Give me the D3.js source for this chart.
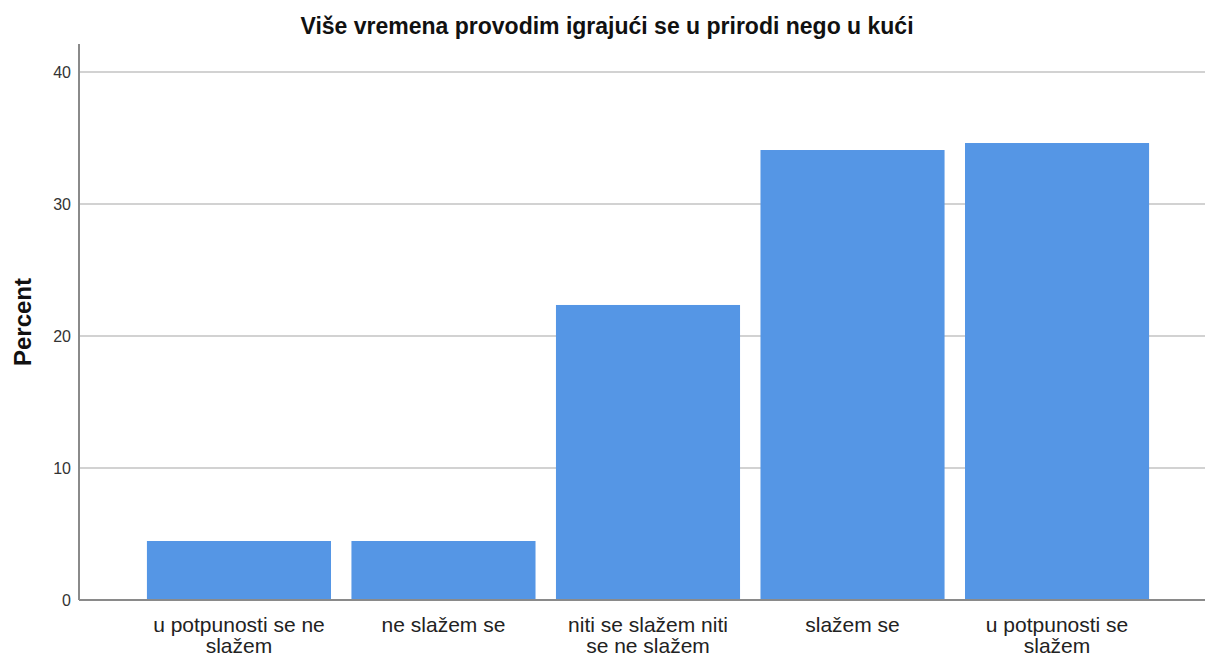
<!DOCTYPE html>
<html>
<head>
<meta charset="utf-8">
<script src="https://cdn.jsdelivr.net/npm/d3@7"></script>
<style>
  body { margin: 0; background: #fff; }
  svg { font-family: Arial, 'Liberation Sans', sans-serif; }
</style>
</head>
<body>
<script>
const title = 'Više vremena provodim igrajući se u prirodi nego u kući'
const yLabel = 'Percent'
const categories = [
  ['u potpunosti se ne', 'slažem'],
  ['ne slažem se'],
  ['niti se slažem niti', 'se ne slažem'],
  ['slažem se'],
  ['u potpunosti se', 'slažem']
]
const percents = [4.47, 4.47, 22.35, 34.09, 34.62]
const yTicks = [0, 10, 20, 30, 40]

const width = 1205
const height = 656
const plot = { left: 79, right: 1205, top: 44, bottom: 600 }

const svg = d3.select('body').append('svg')
  .attr('width', width)
  .attr('height', height)

// Scales
const y = d3.scaleLinear()
  .domain([0, 40])
  .range([plot.bottom, 72])

const x = d3.scaleBand()
  .domain(categories.map((d, i) => i))
  .range([136.7, 1159.3])
  .paddingInner(0.1)
  .paddingOuter(0.05)

// Gridlines
svg.append('g')
  .attr('class', 'grid')
  .selectAll('line')
  .data(yTicks.filter(d => d > 0))
  .enter()
  .append('line')
  .attr('x1', plot.left)
  .attr('x2', plot.right)
  .attr('y1', d => y(d))
  .attr('y2', d => y(d))
  .attr('stroke', '#d2d2d2')
  .attr('stroke-width', 2)

// Bars
svg.append('g')
  .attr('class', 'bars')
  .selectAll('rect')
  .data(percents)
  .enter()
  .append('rect')
  .attr('x', (d, i) => x(i))
  .attr('width', x.bandwidth())
  .attr('y', d => y(d))
  .attr('height', d => y(0) - y(d))
  .attr('fill', '#5596e5')

// Y axis
const yAxis = svg.append('g')
  .attr('transform', `translate(${plot.left},0)`)
  .call(d3.axisLeft(y).tickValues(yTicks).tickSize(0).tickPadding(8))
yAxis.select('.domain').remove()
yAxis.selectAll('text')
  .attr('font-size', 16)
  .attr('fill', '#333')
  .attr('font-family', 'Arial, Liberation Sans, sans-serif')

// Axis lines
svg.append('line')
  .attr('x1', plot.left).attr('x2', plot.left)
  .attr('y1', plot.top).attr('y2', plot.bottom)
  .attr('stroke', '#8a8a8a').attr('stroke-width', 2)
svg.append('line')
  .attr('x1', plot.left).attr('x2', plot.right)
  .attr('y1', plot.bottom).attr('y2', plot.bottom)
  .attr('stroke', '#8a8a8a').attr('stroke-width', 2)

// Category labels
const labels = svg.append('g')
  .selectAll('text')
  .data(categories)
  .enter()
  .append('text')
  .attr('text-anchor', 'middle')
  .attr('font-size', 21)
  .attr('fill', '#222')
  .attr('transform', (d, i) => `translate(${x(i) + x.bandwidth() / 2},632)`)
labels.selectAll('tspan')
  .data(d => d)
  .enter()
  .append('tspan')
  .attr('x', 0)
  .attr('dy', (d, i) => i === 0 ? 0 : 21)
  .text(d => d)

// Title
svg.append('text')
  .attr('x', 607)
  .attr('y', 34)
  .attr('text-anchor', 'middle')
  .attr('font-size', 23)
  .attr('font-weight', 'bold')
  .attr('fill', '#111')
  .text(title)

// Y label
svg.append('text')
  .attr('transform', 'translate(31,322) rotate(-90)')
  .attr('text-anchor', 'middle')
  .attr('font-size', 24)
  .attr('font-weight', 'bold')
  .attr('fill', '#111')
  .text(yLabel)
</script>
</body>
</html>
